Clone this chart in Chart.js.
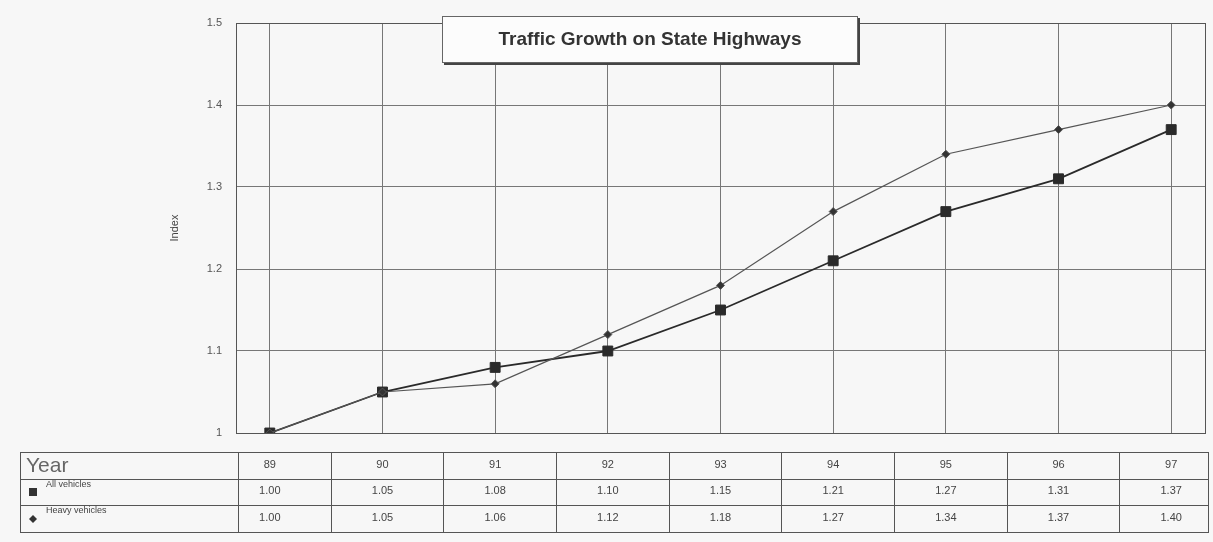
<!DOCTYPE html>
<html>
<head>
<meta charset="utf-8">
<script src="https://cdn.jsdelivr.net/npm/chart.js@4/dist/chart.umd.min.js"></script>
<style>
  body { margin: 0; background: #f7f7f7; }
  canvas { display: block; }
</style>
</head>
<body>
<canvas id="myChart" width="1213" height="542"></canvas>
<script>
// Data
const years = [89, 90, 91, 92, 93, 94, 95, 96, 97];
const allVehicles = [1.00, 1.05, 1.08, 1.10, 1.15, 1.21, 1.27, 1.31, 1.37];
const heavyVehicles = [1.00, 1.05, 1.06, 1.12, 1.18, 1.27, 1.34, 1.37, 1.40];
const yTicks = [1, 1.1, 1.2, 1.3, 1.4, 1.5];
const seriesNames = ['All vehicles', 'Heavy vehicles'];
const chartTitle = 'Traffic Growth on State Highways';

const FONT = '"Liberation Sans", Arial, sans-serif';

// Frame round the plot area
const plotFrame = {
    id: 'plotFrame',
    beforeDatasetsDraw(chart) {
        const a = chart.chartArea;
        const ctx = chart.ctx;
        ctx.save();
        ctx.strokeStyle = '#555';
        ctx.lineWidth = 1;
        ctx.strokeRect(Math.round(a.left) + 0.5, Math.round(a.top) + 0.5,
            Math.round(a.right - a.left), Math.round(a.bottom - a.top));
        ctx.restore();
    }
};

// Title box drawn over the plot
const titleBox = {
    id: 'titleBox',
    afterDraw(chart) {
        const ctx = chart.ctx;
        ctx.save();
        ctx.fillStyle = '#444';
        ctx.fillRect(444, 18, 416, 47);
        ctx.fillStyle = '#fcfcfc';
        ctx.fillRect(442, 16, 415, 46);
        ctx.strokeStyle = '#666';
        ctx.lineWidth = 1;
        ctx.strokeRect(442.5, 16.5, 415, 46);
        ctx.fillStyle = '#333';
        ctx.font = 'bold 19px ' + FONT;
        ctx.textAlign = 'center';
        ctx.textBaseline = 'middle';
        ctx.fillText(chartTitle, 650, 40);
        ctx.restore();
    }
};

// Data table under the chart
const dataTable = {
    id: 'dataTable',
    afterDraw(chart) {
        const ctx = chart.ctx;
        const xs = chart.scales.x;
        const area = chart.chartArea;
        const left = 20, right = area.right + 3;
        const rows = [452, 479, 505, 532];
        ctx.save();
        ctx.strokeStyle = '#555';
        ctx.lineWidth = 1;
        ctx.strokeRect(left + 0.5, rows[0] + 0.5, right - left, rows[3] - rows[0]);
        ctx.beginPath();
        [rows[1], rows[2]].forEach(y => {
            ctx.moveTo(left, y + 0.5);
            ctx.lineTo(right, y + 0.5);
        });
        const cols = [area.left + 2];
        years.slice(0, -1).forEach(y => cols.push(Math.round(xs.getPixelForValue(y + 0.54))));
        cols.forEach(x => {
            ctx.moveTo(x + 0.5, rows[0]);
            ctx.lineTo(x + 0.5, rows[3]);
        });
        ctx.stroke();

        ctx.textBaseline = 'middle';
        ctx.fillStyle = '#666';
        ctx.font = '21px ' + FONT;
        ctx.textAlign = 'left';
        ctx.fillText('Year', 26, 466);

        ctx.font = '9px ' + FONT;
        ctx.fillStyle = '#444';
        ctx.fillText(seriesNames[0], 46, 485);
        ctx.fillText(seriesNames[1], 46, 511);
        ctx.fillStyle = '#333';
        ctx.fillRect(29, 488, 8, 8);
        ctx.beginPath();
        ctx.moveTo(33, 515);
        ctx.lineTo(37, 519);
        ctx.lineTo(33, 523);
        ctx.lineTo(29, 519);
        ctx.closePath();
        ctx.fill();

        ctx.font = '11px ' + FONT;
        ctx.textAlign = 'center';
        ctx.fillStyle = '#444';
        years.forEach((y, i) => {
            const x = xs.getPixelForValue(y);
            ctx.fillText(String(y), x, 465);
            ctx.fillText(allVehicles[i].toFixed(2), x, 491);
            ctx.fillText(heavyVehicles[i].toFixed(2), x, 518);
        });
        ctx.restore();
    }
};

const ctx = document.getElementById('myChart').getContext('2d');
new Chart(ctx, {
    type: 'line',
    data: {
        datasets: [{
            label: seriesNames[1],
            data: years.map((y, i) => ({ x: y, y: heavyVehicles[i] })),
            borderColor: '#555',
            backgroundColor: '#333',
            borderWidth: 1.2,
            pointStyle: 'rectRot',
            pointRadius: 4,
            pointBorderWidth: 1
        }, {
            label: seriesNames[0],
            data: years.map((y, i) => ({ x: y, y: allVehicles[i] })),
            borderColor: '#2a2a2a',
            backgroundColor: '#2a2a2a',
            borderWidth: 1.8,
            pointStyle: 'rect',
            pointRadius: 7,
            pointBorderWidth: 1
        }]
    },
    options: {
        responsive: false,
        animation: false,
        layout: { padding: { left: 0, top: 23, right: 8, bottom: 109 } },
        plugins: {
            legend: { display: false },
            title: { display: false },
            tooltip: { enabled: false }
        },
        scales: {
            x: {
                type: 'linear',
                min: 88.7,
                max: 97.3,
                afterBuildTicks: s => { s.ticks = years.map(v => ({ value: v })); },
                ticks: { display: false },
                grid: { color: '#777', drawTicks: false },
                border: { color: '#444' }
            },
            y: {
                min: 1,
                max: 1.5,
                afterBuildTicks: s => { s.ticks = yTicks.map(v => ({ value: v })); },
                afterFit: s => { s.width = 236; },
                ticks: {
                    padding: 14,
                    color: '#555',
                    font: { size: 11, family: FONT },
                    callback: v => String(Number(v.toFixed(1)))
                },
                grid: { color: '#777', drawTicks: false },
                border: { color: '#444' },
                title: {
                    display: true,
                    text: 'Index',
                    color: '#444',
                    font: { size: 11, family: FONT },
                    padding: { top: 168, bottom: 0 }
                }
            }
        }
    },
    plugins: [plotFrame, titleBox, dataTable]
});
</script>
</body>
</html>
